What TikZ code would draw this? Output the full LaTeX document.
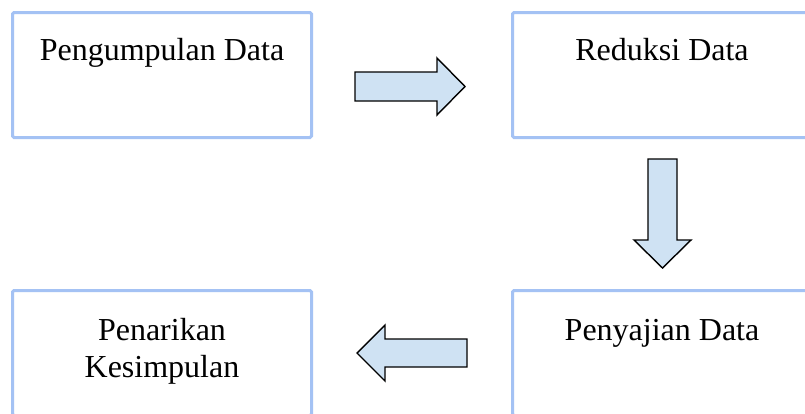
\documentclass[tikz,border=0pt]{standalone}
\usepackage{fontspec}
\setmainfont{Liberation Serif}
\usetikzlibrary{calc}
\definecolor{boxblue}{HTML}{A4C2F4}
\definecolor{arrowfill}{HTML}{CFE2F3}
\begin{document}
\begin{tikzpicture}[x=1pt,y=-1pt,
  box/.style={draw=boxblue, line width=3pt, rounded corners=1.5pt, minimum width=299pt, minimum height=125pt, inner sep=0pt},
  lbl/.style={font=\fontsize{32}{37}\selectfont, inner sep=0pt, align=center},
  blockarrow/.style={draw=black, fill=arrowfill, line width=1.4pt, line join=miter}]
\useasboundingbox (0,0) rectangle (805,413);
\clip (0,0) rectangle (805,413);
\fill[white] (0,0) rectangle (805,413);
% boxes
\node[box] (pd) at (162,75) {};
\node[box] (rd) at (662,75) {};
\node[box] (pk) at (162,353) {};
\node[box] (sd) at (662,353) {};
% labels
\node[lbl, anchor=base] (tpd) at ([yshift=-49.5pt]pd.north) {Pengumpulan Data};
\node[lbl, anchor=base] (trd) at ([yshift=-49.5pt]rd.north) {Reduksi Data};
\node[lbl, anchor=base] (tsd) at ([yshift=-51pt]sd.north) {Penyajian Data};
\node[lbl, anchor=base] (tpk) at ([yshift=-88.5pt]pk.north) {Penarikan\\Kesimpulan};
% block arrows
\draw[blockarrow] (355,72) -- (437,72) -- (437,58) -- (465,86.5) -- (437,115) -- (437,101) -- (355,101) -- cycle;
\draw[blockarrow] (648,159) -- (677,159) -- (677,240) -- (691,240) -- (662.5,268) -- (634,240) -- (648,240) -- cycle;
\draw[blockarrow] (467,339) -- (385,339) -- (385,325) -- (357,353) -- (385,381) -- (385,367) -- (467,367) -- cycle;
\end{tikzpicture}
\end{document}
